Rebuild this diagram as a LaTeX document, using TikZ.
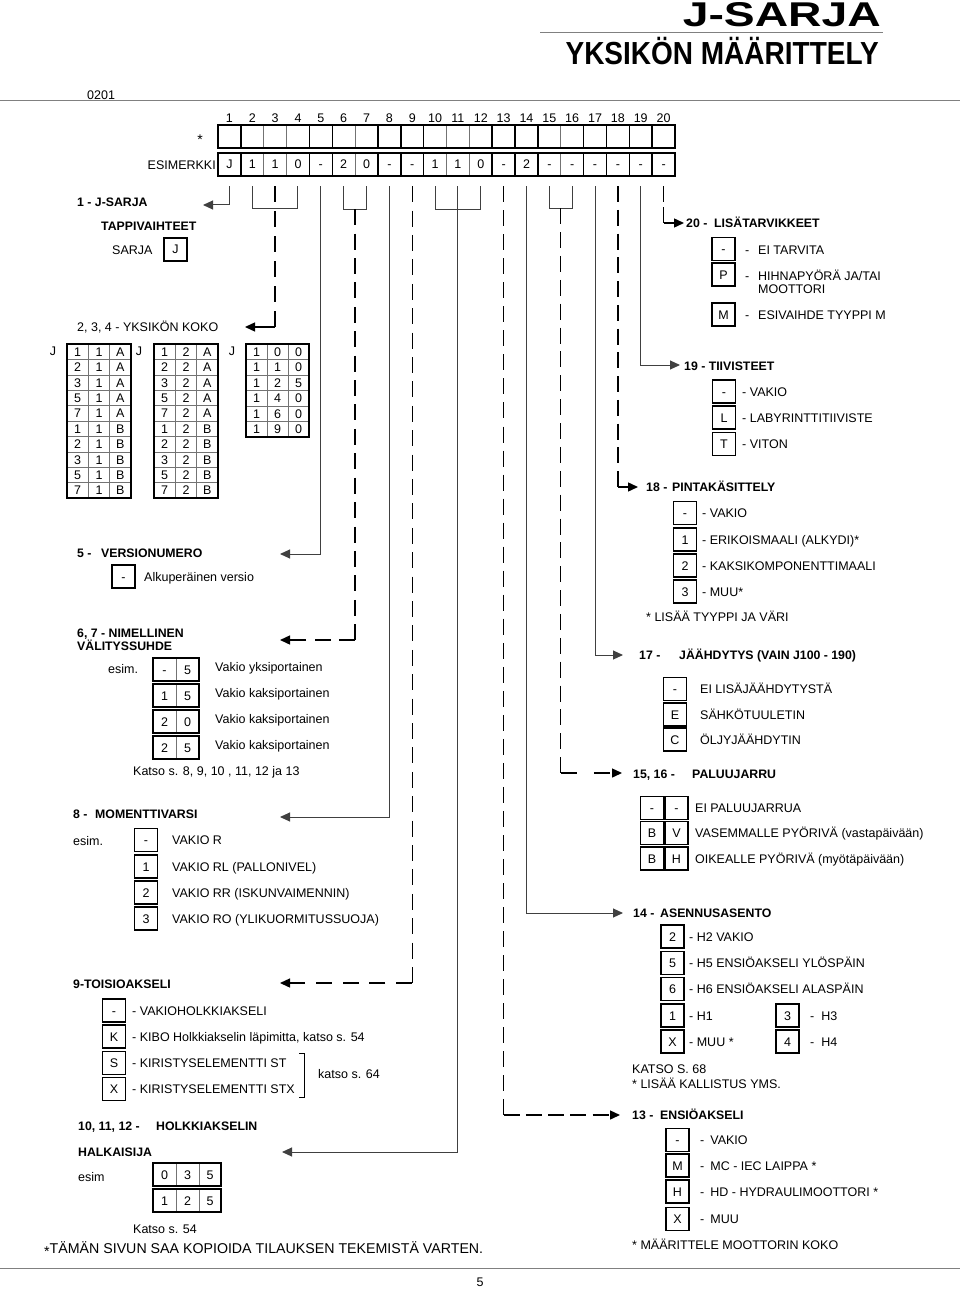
\documentclass[tikz,border=0pt]{standalone}
\usepackage{fontspec}
\setmainfont{Liberation Sans}
\usetikzlibrary{arrows.meta,calc}
\begin{document}
\begin{tikzpicture}[x=1pt,y=-1pt,
  txt/.style={anchor=base west, inner sep=0pt, yshift=-4.5pt, font=\fontsize{12.5}{14}\selectfont},
  hdr/.style={anchor=base west, inner sep=0pt, yshift=-4.5pt, font=\fontsize{12.3}{14}\selectfont\bfseries},
  ob/.style={draw, line width=1.4pt, minimum width=23pt, minimum height=23pt, inner sep=0pt, text height=9pt, text depth=0pt, font=\fontsize{12.5}{14}\selectfont},
  cell/.style={inner sep=0pt, minimum width=22.85pt, minimum height=23pt, text height=9pt, text depth=0pt, font=\fontsize{12.5}{14}\selectfont},
  tcell/.style={inner sep=0pt, text height=9pt, text depth=0pt, font=\fontsize{12.5}{14}\selectfont},
  sl/.style={line width=1pt, draw=black!75},
  dlp/.style={line width=1.4pt, dash pattern=on 16pt off #1},
  dls/.style={line width=1.4pt},
  arr/.style={-{Triangle[length=10pt,width=9pt]}},
  thk/.style={line width=1.5pt},
  thn/.style={line width=0.6pt, draw=black!55},
  rule/.style={line width=0.8pt, draw=black!50},
]
\useasboundingbox (0,0) rectangle (960,1289);
\def\W{22.85}

% ---------- header ----------
\node[anchor=base east, inner sep=0pt] (title1) at (881,27) {\resizebox{198pt}{24pt}{\bfseries J-SARJA}};
\draw[rule] (540,32) -- (883,32);
\node[anchor=base east, inner sep=0pt] (title2) at (879,65) {\scalebox{1}[1.14]{\fontsize{28}{30}\selectfont\bfseries YKSIKÖN MÄÄRITTELY}};
\node[txt] (code) at (87,95) {0201};
\draw[rule] (0,100) -- (960,100);

% ---------- code grid ----------
\foreach \i in {1,...,19} {
  \draw[thn] ({218+\i*\W},125) -- ({218+\i*\W},148);
  \draw[thn] ({218+\i*\W},153) -- ({218+\i*\W},176);
}
\foreach \s/\e in {1/1,2/4,5/5,6/7,8/8,9/9,10/12,13/13,14/14,15/16,17/17,18/18,19/19,20/20} {
  \draw[thk] ({218+(\s-1)*\W},125) rectangle ({218+\e*\W},148);
  \draw[thk] ({218+(\s-1)*\W},153) rectangle ({218+\e*\W},176);
}
\foreach \i in {1,...,20}
  \node[tcell] (n\i) at ({218+(\i-0.5)*\W},118) {\i};
\foreach \v [count=\i] in {J,1,1,0,-,2,0,-,-,1,1,0,-,2,-,-,-,-,-,-}
  \node[cell] (c\i) at ({218+(\i-0.5)*\W},164.5) {\v};
\node[inner sep=0pt, font=\fontsize{14}{14}\selectfont] (star) at (200,140) {*};
\node[txt, anchor=base east] (esim) at (216,165) {ESIMERKKI};

% ---------- left headings ----------
\node[hdr] (h1) at (77,202) {1 - J-SARJA};
\node[hdr] (tap) at (101,226) {TAPPIVAIHTEET};
\node[txt] (sarja) at (112,250) {SARJA};
\node[ob] (bJ) at (175.5,249.5) {J};
\node[txt] (h234) at (77,327) {2, 3, 4 - YKSIKÖN KOKO};

% tables
\foreach \k in {1,...,9} {
  \draw[thn] (67,{344+\k*15.4}) -- (131,{344+\k*15.4});
  \draw[thn] (154,{344+\k*15.4}) -- (218,{344+\k*15.4});
}
\foreach \k in {1,...,5}
  \draw[thn] (246,{344+\k*15.5}) -- (309,{344+\k*15.5});
\draw[thn] (88.3,344) -- (88.3,498) (109.7,344) -- (109.7,498);
\draw[thn] (175.3,344) -- (175.3,498) (196.7,344) -- (196.7,498);
\draw[thn] (267,344) -- (267,437) (288,344) -- (288,437);
\draw[thk] (67,344) rectangle (131,498);
\draw[thk] (154,344) rectangle (218,498);
\draw[thk] (246,344) rectangle (309,437);
\foreach \a/\c [count=\r] in {1/A,2/A,3/A,5/A,7/A,1/B,2/B,3/B,5/B,7/B} {
  \node[tcell] (ta\r) at (77.7,{344+(\r-0.5)*15.4}) {\a};
  \node[tcell] (tb\r) at (99,{344+(\r-0.5)*15.4}) {1};
  \node[tcell] (tc\r) at (120.3,{344+(\r-0.5)*15.4}) {\c};
  \node[tcell] (ua\r) at (164.7,{344+(\r-0.5)*15.4}) {\a};
  \node[tcell] (ub\r) at (186,{344+(\r-0.5)*15.4}) {2};
  \node[tcell] (uc\r) at (207.3,{344+(\r-0.5)*15.4}) {\c};
}
\foreach \a/\b/\c [count=\r] in {1/0/0,1/1/0,1/2/5,1/4/0,1/6/0,1/9/0} {
  \node[tcell] (va\r) at (256.5,{344+(\r-0.5)*15.5}) {\a};
  \node[tcell] (vb\r) at (277.5,{344+(\r-0.5)*15.5}) {\b};
  \node[tcell] (vc\r) at (298.5,{344+(\r-0.5)*15.5}) {\c};
}
\node[tcell] (j1) at (53,351) {J};
\node[tcell] (j2) at (139,351) {J};
\node[tcell] (j3) at (232,351) {J};

% 5
\node[hdr] (h5) at (77,553) {5 -};
\node[hdr] (h5b) at (101,553) {VERSIONUMERO};
\node[ob] (b5) at (123.5,576.5) {-};
\node[txt] (l5) at (144,577) {Alkuperäinen versio};

% 6,7
\node[hdr] (h67) at (77,633) {6, 7 - NIMELLINEN};
\node[hdr] (h67b) at (77,646) {VÄLITYSSUHDE};
\node[txt] (e67) at (108,669) {esim.};
\foreach \a/\b/\y [count=\r] in {-/5/669.5,1/5/695.5,2/0/721.5,2/5/747.5} {
  \draw[thn] (176,{\y-11.5}) -- (176,{\y+11.5});
  \draw[thk] (153,{\y-11.5}) rectangle (199,{\y+11.5});
  \node[tcell] (p\r a) at (164.5,\y) {\a};
  \node[tcell] (p\r b) at (187.5,\y) {\b};
}
\node[txt] (l67a) at (215,667) {Vakio yksiportainen};
\node[txt] (l67b) at (215,693) {Vakio kaksiportainen};
\node[txt] (l67c) at (215,719) {Vakio kaksiportainen};
\node[txt] (l67d) at (215,745) {Vakio kaksiportainen};
\node[txt] (k67) at (133,771) {Katso s. 8, 9, 10 , 11, 12 ja 13};

% 8
\node[hdr] (h8) at (73,814) {8 -};
\node[hdr] (h8b) at (95,814) {MOMENTTIVARSI};
\node[txt] (e8) at (73,841) {esim.};
\foreach \v/\y/\t [count=\r] in {-/840/VAKIO R,1/866.5/VAKIO RL (PALLONIVEL),2/892.5/VAKIO RR (ISKUNVAIMENNIN),3/918.5/VAKIO RO (YLIKUORMITUSSUOJA)} {
  \node[ob] (b8\r) at (146,\y) {\v};
  \node[txt] (l8\r) at (172,\y) {\t};
}

% 9
\node[hdr] (h9) at (73,984) {9-TOISIOAKSELI};
\foreach \v/\y/\t [count=\r] in {-/1010.5/VAKIOHOLKKIAKSELI,K/1036.5/KIBO Holkkiakselin läpimitta{,} katso s. 54,S/1063/KIRISTYSELEMENTTI ST,X/1089/KIRISTYSELEMENTTI STX} {
  \node[ob] (b9\r) at (114,\y) {\v};
  \node[txt] (l9\r) at (132,\y) {-\hspace{3.5pt}\t};
}
\draw[line width=1pt] (299,1053) -- (304,1053) -- (304,1097) -- (299,1097);
\node[txt] (k64) at (318,1074) {katso s. 64};

% 10-12
\node[hdr] (h1012) at (78,1126) {10, 11, 12 -};
\node[hdr] (h1012b) at (156,1126) {HOLKKIAKSELIN};
\node[hdr] (hal) at (78,1152) {HALKAISIJA};
\node[txt] (e1012) at (78,1177) {esim};
\foreach \a/\b/\c/\y [count=\r] in {0/3/5/1174.5,1/2/5/1200.5} {
  \draw[thn] (176,{\y-11.5}) -- (176,{\y+11.5}) (199,{\y-11.5}) -- (199,{\y+11.5});
  \draw[thk] (153,{\y-11.5}) rectangle (221,{\y+11.5});
  \node[tcell] (q\r a) at (164.5,\y) {\a};
  \node[tcell] (q\r b) at (187.5,\y) {\b};
  \node[tcell] (q\r c) at (210,\y) {\c};
}
\node[txt] (k54) at (133,1229) {Katso s. 54};

% footer
\node[anchor=base west, inner sep=0pt, font=\fontsize{14.2}{16}\selectfont] (foot) at (44,1253)
  {\raisebox{-3pt}{*}TÄMÄN SIVUN SAA KOPIOIDA TILAUKSEN TEKEMISTÄ VARTEN.};
\draw[rule] (0,1268) -- (960,1268);
\node[tcell] (pg) at (480,1282) {5};

% ---------- right side ----------
% 20
\node[hdr] (h20) at (686,223) {20 - \ LISÄTARVIKKEET};
\node[ob] (b201) at (723.5,249) {-};
\node[ob] (b202) at (723.5,274.5) {P};
\node[ob] (b203) at (723.5,314.5) {M};
\node[txt] (d201) at (745,250) {-};
\node[txt] (d202) at (745,276) {-};
\node[txt] (d203) at (745,315) {-};
\node[txt] (l201) at (758,250) {EI TARVITA};
\node[txt] (l202) at (758,276) {HIHNAPYÖRÄ JA/TAI};
\node[txt] (l202b) at (758,289) {MOOTTORI};
\node[txt] (l203) at (758,315) {ESIVAIHDE TYYPPI M};

% 19
\node[hdr] (h19) at (684,366) {19 - TIIVISTEET};
\foreach \v/\y/\t [count=\r] in {-/391.5/VAKIO,L/417.5/LABYRINTTITIIVISTE,T/444/VITON} {
  \node[ob] (b19\r) at (724,\y) {\v};
  \node[txt] (l19\r) at (742,\y) {- \t};
}

% 18
\node[hdr] (h18) at (646,487) {18 -};
\node[hdr] (h18b) at (672,487) {PINTAKÄSITTELY};
\foreach \v/\y/\t [count=\r] in {-/513/VAKIO,1/539.5/ERIKOISMAALI (ALKYDI)*,2/565.5/KAKSIKOMPONENTTIMAALI,3/591.5/MUU*} {
  \node[ob] (b18\r) at (685,\y) {\v};
  \node[txt] (l18\r) at (702,\y) {- \t};
}
\node[txt] (n18) at (646,617) {* LISÄÄ TYYPPI JA VÄRI};

% 17
\node[hdr] (h17) at (639,655) {17 -};
\node[hdr] (h17b) at (679,655) {JÄÄHDYTYS (VAIN J100 - 190)};
\foreach \v/\y/\t [count=\r] in {-/689/EI LISÄJÄÄHDYTYSTÄ,E/714.5/SÄHKÖTUULETIN,C/739.5/ÖLJYJÄÄHDYTIN} {
  \node[ob] (b17\r) at (675,\y) {\v};
  \node[txt] (l17\r) at (700,\y) {\t};
}

% 15,16
\node[hdr] (h1516) at (633,774) {15, 16 -};
\node[hdr] (h1516b) at (692,774) {PALUUJARRU};
\foreach \a/\b/\y/\t [count=\r] in {-/-/808/EI PALUUJARRUA,B/V/833/VASEMMALLE PYÖRIVÄ (vastapäivään),B/H/858.5/OIKEALLE PYÖRIVÄ (myötäpäivään)} {
  \node[ob] (b15\r) at (652,\y) {\a};
  \node[ob] (b16\r) at (676.5,\y) {\b};
  \node[txt] (l15\r) at (695,\y) {\t};
}

% 14
\node[hdr] (h14) at (633,913) {14 -};
\node[hdr] (h14b) at (660,913) {ASENNUSASENTO};
\foreach \v/\y/\t [count=\r] in {2/936.5/H2 VAKIO,5/963/H5 ENSIÖAKSELI YLÖSPÄIN,6/989/H6 ENSIÖAKSELI ALASPÄIN,1/1015.5/H1,X/1041.5/MUU *} {
  \node[ob] (b14\r) at (672.5,\y) {\v};
  \node[txt] (l14\r) at (689,\y) {- \t};
}
\node[ob] (b14h3) at (787.5,1015.5) {3};
\node[ob] (b14h4) at (787.5,1041.5) {4};
\node[txt] (l14h3) at (810,1015.5) {-\hspace{7pt}H3};
\node[txt] (l14h4) at (810,1041.5) {-\hspace{7pt}H4};
\node[txt] (k68) at (632,1069) {KATSO S. 68};
\node[txt] (n14) at (632,1084) {* LISÄÄ KALLISTUS YMS.};

% 13
\node[hdr] (h13) at (632,1115) {13 -};
\node[hdr] (h13b) at (660,1115) {ENSIÖAKSELI};
\foreach \v/\y/\t [count=\r] in {-/1140/VAKIO,M/1165.5/MC - IEC LAIPPA *,H/1191.5/HD - HYDRAULIMOOTTORI *,X/1219/MUU} {
  \node[ob] (b13\r) at (677.5,\y) {\v};
  \node[txt] (l13\r) at (700,\y) {-\hspace{6pt}\t};
}
\node[txt] (n13) at (632,1245) {* MÄÄRITTELE MOOTTORIN KOKO};

% ---------- connectors ----------
\coordinate (a1) at (203,205);
\coordinate (a3) at (245,327);
\coordinate (a5) at (280,554);
\coordinate (a67) at (280,640);
\coordinate (a8) at (280,817);
\coordinate (a9) at (280,983);
\coordinate (a11) at (282,1152);
\coordinate (a13) at (620,1115);
\coordinate (a14) at (623,913);
\coordinate (a1516) at (622,773);
\coordinate (a17) at (623,655);
\coordinate (a18) at (638,487);
\coordinate (a19) at (680,365);
\coordinate (a20) at (684,223);
\coordinate (m67) at ($(c6.south)!0.5!(c7.south)+(0,33)$);
\coordinate (m1516) at ($(c15.south)!0.5!(c16.south)+(0,32)$);

% solid
\draw[sl,arr] ([yshift=-10pt]c1.south) |- (a1);
\draw[sl] ([yshift=-10pt]c2.south) -- ([yshift=-32pt]c2.south) -- ([yshift=-32pt]c4.south) -- ([yshift=-10pt]c4.south);
\draw[sl,arr] ([yshift=-10pt]c5.south) |- (a5);
\draw[sl] ([yshift=-10pt]c6.south) -- ([yshift=-33pt]c6.south) -- ([yshift=-33pt]c7.south) -- ([yshift=-10pt]c7.south);
\draw[sl,arr] ([yshift=-10pt]c8.south) |- (a8);
\draw[sl] ([yshift=-10pt]c10.south) -- ([yshift=-33pt]c10.south) -- ([yshift=-33pt]c12.south) -- ([yshift=-10pt]c12.south);
\draw[sl,arr] ([yshift=-10pt]c11.south) |- (a11);
\draw[sl,arr] ([yshift=-10pt]c14.south) |- (a14);
\draw[sl] ([yshift=-10pt]c15.south) -- ([yshift=-32pt]c15.south) -- ([yshift=-32pt]c16.south) -- ([yshift=-10pt]c16.south);
\draw[sl,arr] ([yshift=-10pt]c17.south) |- (a17);
\draw[sl,arr] ([yshift=-10pt]c19.south) |- (a19);

% dashed: vertical and horizontal parts with patterns fitted to begin and end with a dash
\draw[dlp=9pt] ([yshift=-10pt]c3.south) -- (c3.south |- a3);
\draw[dls,arr] (c3.south |- a3) -- (a3);
\draw[dlp=8.41pt] (m67) -- (m67 |- a67);
\draw[dlp=8.5pt,arr] (m67 |- a67) -- (a67);
\draw[dlp=8.4pt] ([yshift=-10pt]c9.south) -- (c9.south |- a9);
\draw[dlp=10.75pt,arr] (c9.south |- a9) -- (a9);
\draw[dlp=8.03pt] ([yshift=-10pt]c13.south) -- (c13.south |- a13);
\draw[dlp=6.25pt,arr] (c13.south |- a13) -- (a13);
\draw[dlp=7.87pt] (m1516) -- (m1516 |- a1516);
\draw[dlp=17pt,arr] (m1516 |- a1516) -- (a1516);
\draw[dlp=7.75pt] ([yshift=-10pt]c18.south) -- (c18.south |- a18);
\draw[dls,arr] (c18.south |- a18) -- (a18);
\draw[dlp=5pt] ([yshift=-10pt]c20.south) -- (c20.south |- a20);
\draw[dls,arr] (c20.south |- a20) -- (a20);
\end{tikzpicture}
\end{document}
